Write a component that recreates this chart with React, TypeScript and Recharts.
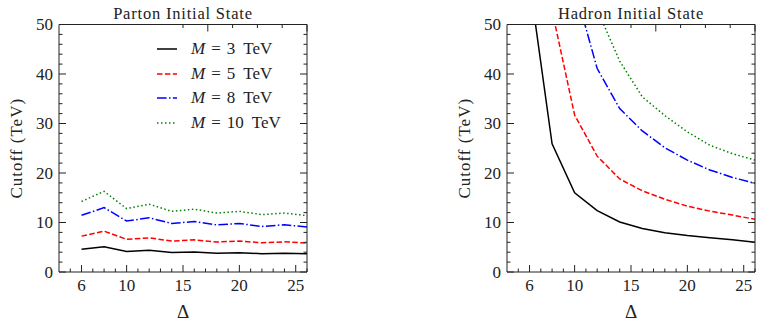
import { LineChart, Line, XAxis, YAxis, Legend } from "recharts";

const deltas = [6, 8, 10, 12, 14, 16, 18, 20, 22, 24, 26];

const partonM3 = [4.6, 5.1, 4.15, 4.4, 3.95, 4.05, 3.8, 3.9, 3.7, 3.8, 3.7];
const partonM5 = [7.25, 8.25, 6.6, 6.9, 6.25, 6.5, 6.05, 6.25, 5.9, 6.1, 5.85];
const partonM8 = [11.45, 13.0, 10.3, 10.95, 9.8, 10.2, 9.5, 9.8, 9.2, 9.55, 9.1];
const partonM10 = [14.25, 16.3, 12.8, 13.7, 12.25, 12.7, 11.9, 12.25, 11.6, 11.9, 11.4];

// points above the frame are clipped; null where the curve is out of view
const hadronM3 = [58.7, 25.9, 16.0, 12.4, 10.1, 8.8, 7.95, 7.35, 6.9, 6.5, 6.0];
const hadronM5 = [null, 52.8, 31.7, 23.4, 18.8, 16.4, 14.7, 13.3, 12.3, 11.5, 10.65];
const hadronM8 = [null, null, 57.4, 41.1, 33.0, 28.5, 25.1, 22.6, 20.6, 19.1, 17.9];
const hadronM10 = [null, null, null, 53.0, 42.6, 35.4, 31.6, 28.3, 25.6, 23.9, 22.6];

const xMajor = [6, 10, 15, 20, 25];
const xTicks = [5, 6, 7, 8, 9, 10, 11, 12, 13, 14, 15, 16, 17, 18, 19, 20, 21, 22, 23, 24, 25, 26];
const yMajor = [0, 10, 20, 30, 40, 50];
const yTicks = [0, 2, 4, 6, 8, 10, 12, 14, 16, 18, 20, 22, 24, 26, 28, 30, 32, 34, 36, 38, 40, 42, 44, 46, 48, 50];

const series = [
  { key: "m3", label: "3", color: "#000000", dash: undefined },
  { key: "m5", label: "5", color: "#ff0000", dash: "5.5 2.4" },
  { key: "m8", label: "8", color: "#0000ff", dash: "9.6 2.4 1.5 2.4" },
  { key: "m10", label: "10", color: "#008000", dash: "1.5 2.5" },
];

const partonData = deltas.map((d, i) => ({
  delta: d,
  m3: partonM3[i],
  m5: partonM5[i],
  m8: partonM8[i],
  m10: partonM10[i],
}));

const hadronData = deltas.map((d, i) => ({
  delta: d,
  m3: hadronM3[i],
  m5: hadronM5[i],
  m8: hadronM8[i],
  m10: hadronM10[i],
}));

const INK = "#222";
const FONT = "'Liberation Serif', 'DejaVu Serif', serif";

const BottomTick = (props: any) => {
  const { x, y, payload } = props;
  const major = xMajor.includes(payload.value);
  return (
    <g>
      <line x1={x} x2={x} y1={y} y2={y - (major ? 7 : 3.5)} stroke={INK} strokeWidth={1} />
      {major && (
        <text x={x} y={y + 19} textAnchor="middle" fill={INK} style={{ fontFamily: FONT, fontSize: 17 }}>
          {payload.value}
        </text>
      )}
    </g>
  );
};

const TopTick = (props: any) => {
  const { x, y, payload } = props;
  const major = xMajor.includes(payload.value);
  return <line x1={x} x2={x} y1={y} y2={y + (major ? 7 : 3.5)} stroke={INK} strokeWidth={1} />;
};

const LeftTick = (props: any) => {
  const { x, y, payload } = props;
  const major = yMajor.includes(payload.value);
  return (
    <g>
      <line x1={x} x2={x + (major ? 7 : 3.5)} y1={y} y2={y} stroke={INK} strokeWidth={1} />
      {major && (
        <text x={x - 6} y={y} dy="0.34em" textAnchor="end" fill={INK} style={{ fontFamily: FONT, fontSize: 17 }}>
          {payload.value}
        </text>
      )}
    </g>
  );
};

const RightTick = (props: any) => {
  const { x, y, payload } = props;
  const major = yMajor.includes(payload.value);
  return <line x1={x} x2={x - (major ? 7 : 3.5)} y1={y} y2={y} stroke={INK} strokeWidth={1} />;
};

const LegendBox = () => (
  <div style={{ fontFamily: FONT, fontSize: 17, color: INK }}>
    {series.map((s) => (
      <div key={s.key} style={{ height: 24.5, display: "flex", alignItems: "center" }}>
        <svg width={22} height={10} style={{ marginRight: 13 }}>
          <line x1={1} x2={21} y1={5} y2={5} stroke={s.color} strokeWidth={1.5} strokeDasharray={s.dash} />
        </svg>
        <span style={{ fontStyle: "italic", fontFamily: FONT }}>M</span>
        <span style={{ margin: "0 6px 0 6px", fontFamily: FONT }}>=</span>
        <span style={{ fontFamily: FONT }}>{s.label}</span>
        <span style={{ marginLeft: 8, fontFamily: FONT }}>TeV</span>
      </div>
    ))}
  </div>
);

function Panel({ data, title, yAxisWidth, width, showLegend }: any) {
  return (
    <LineChart
      width={width}
      height={328}
      data={data}
      margin={{ top: 23.5, right: width - yAxisWidth - 249, bottom: 16, left: 0 }}
      style={{ fontFamily: FONT }}
    >
      <XAxis
        dataKey="delta"
        type="number"
        domain={[4, 26]}
        ticks={xTicks}
        interval={0}
        allowDataOverflow
        height={40}
        tickSize={0}
        tickMargin={0}
        tickLine={false}
        tick={<BottomTick />}
        axisLine={{ stroke: INK }}
        label={{
          value: "Δ",
          position: "insideBottom",
          offset: -6,
          fill: INK,
          style: { fontFamily: FONT, fontSize: 19 },
        }}
      />
      <XAxis
        xAxisId="top"
        orientation="top"
        type="number"
        domain={[4, 26]}
        ticks={xTicks}
        interval={0}
        allowDataOverflow
        height={1}
        tickSize={0}
        tickMargin={0}
        tickLine={false}
        tick={<TopTick />}
        axisLine={{ stroke: INK }}
        label={{
          value: title,
          position: "top",
          offset: 5,
          fill: INK,
          style: { fontFamily: FONT, fontSize: 16.5, letterSpacing: "0.8px" },
        }}
      />
      <YAxis
        type="number"
        domain={[0, 50]}
        ticks={yTicks}
        interval={0}
        allowDataOverflow
        width={yAxisWidth}
        tickSize={0}
        tickMargin={0}
        tickLine={false}
        tick={<LeftTick />}
        axisLine={{ stroke: INK }}
        label={{
          value: "Cutoff (TeV)",
          angle: -90,
          position: "insideLeft",
          offset: yAxisWidth - 43,
          fill: INK,
          style: { textAnchor: "middle", letterSpacing: "1px", fontFamily: FONT, fontSize: 17 },
        }}
      />
      <YAxis
        yAxisId="right"
        orientation="right"
        type="number"
        domain={[0, 50]}
        ticks={yTicks}
        interval={0}
        allowDataOverflow
        width={1}
        tickSize={0}
        tickMargin={0}
        tickLine={false}
        tick={<RightTick />}
        axisLine={{ stroke: INK }}
      />
      {showLegend && (
        <Legend
          layout="vertical"
          align="center"
          verticalAlign="middle"
          content={<LegendBox />}
          wrapperStyle={{ left: 156, top: 37, width: 150, height: 100 }}
        />
      )}
      {series.map((s) => (
        <Line
          key={s.key}
          dataKey={s.key}
          name={s.label}
          stroke={s.color}
          strokeWidth={1.5}
          strokeDasharray={s.dash}
          dot={false}
          activeDot={false}
          isAnimationActive={false}
          type="linear"
        />
      ))}
    </LineChart>
  );
}

export default function App() {
  return (
    <div
      style={{
        position: "absolute",
        left: 0,
        top: 0,
        width: 762,
        height: 328,
        background: "#fff",
        fontFamily: FONT,
      }}
    >
      <div style={{ position: "absolute", left: 0, top: 0 }}>
        <Panel data={partonData} title="Parton Initial State" yAxisWidth={59} width={320} showLegend />
      </div>
      <div style={{ position: "absolute", left: 400, top: 0 }}>
        <Panel data={hadronData} title="Hadron Initial State" yAxisWidth={107} width={362} showLegend={false} />
      </div>
    </div>
  );
}
